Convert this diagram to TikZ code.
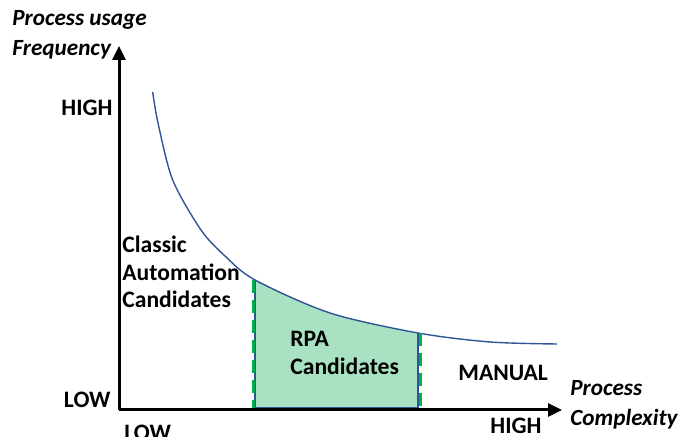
\documentclass[tikz,border=0pt]{standalone}
\usepackage{fontspec}
\setmainfont{Carlito}
\usetikzlibrary{arrows.meta}
\tikzset{>={Triangle[length=7pt,width=6.5pt]}}
\definecolor{curveblue}{HTML}{2F5597}
\definecolor{rpagreen}{HTML}{A8E2C2}
\definecolor{dashgreen}{HTML}{00B050}
\tikzset{
  lbl/.style={inner sep=0pt, font=\fontsize{11.8}{13.75}\selectfont\bfseries, align=left},
  axlbl/.style={inner sep=0pt, font=\fontsize{11.6}{15}\selectfont\bfseries\itshape, align=left},
  axis/.style={line width=1.5pt, ->},
  bound/.style={dashgreen, line width=1.5pt, dash pattern=on 6.5pt off 3.5pt},
  edge/.style={curveblue, line width=0.7pt}
}
\def\curvepts{(152.7,92) (158,123) (172.7,180) (201,230) (225,256) (255,280) (330,313) (418,333) (490,342) (557,344)}

\begin{document}
\begin{tikzpicture}[x=0.5pt, y=-0.5pt]
      \useasboundingbox (0,0) rectangle (682,437);
      \coordinate (o) at (119,410);
      \coordinate (ytip) at (119,46);
      \coordinate (xtip) at (562,410);
      % green area below the curve
      \begin{scope}
        \clip (255,0) rectangle (418,409);
        \fill[rpagreen] plot[smooth, tension=0.5] coordinates {\curvepts} -- (557,409) -- (152,409) -- cycle;
      \end{scope}
      \draw[edge] plot[smooth, tension=0.5] coordinates {\curvepts};
      \coordinate (a1) at (255,280);
      \coordinate (a2) at (418,333);
      \coordinate (b1) at (255,408);
      \coordinate (b2) at (418,408);
      \draw[edge] (a1) -- (b1) -- (b2) -- (a2);
      \draw[bound] (253,280) -- (253,410);
      \draw[bound] (420,333) -- (420,410);
      % axes
      \draw[axis] (o) -- (ytip);
      \draw[axis] (o) -- (xtip);
      % labels
      \node[axlbl, anchor=west] (freq) at (12,35) {Process usage\\Frequency};
      \node[axlbl, anchor=west] (cplx) at (570,405) {Process\\Complexity};
      \node[lbl, anchor=east] (yhigh) at (113,108) {HIGH};
      \node[lbl, anchor=east] (ylow) at (111,400) {LOW};
      \node[lbl, anchor=west] (xlow) at (124,433) {LOW};
      \node[lbl, anchor=west] (xhigh) at (490,426) {HIGH};
      \node[lbl, anchor=west] (classic) at (122,272) {Classic\\Automation\\Candidates};
      \node[lbl, anchor=west] (rpa) at (290,353) {RPA\\Candidates};
      \node[lbl, anchor=west] (manual) at (458,373) {MANUAL};
\end{tikzpicture}
\end{document}
